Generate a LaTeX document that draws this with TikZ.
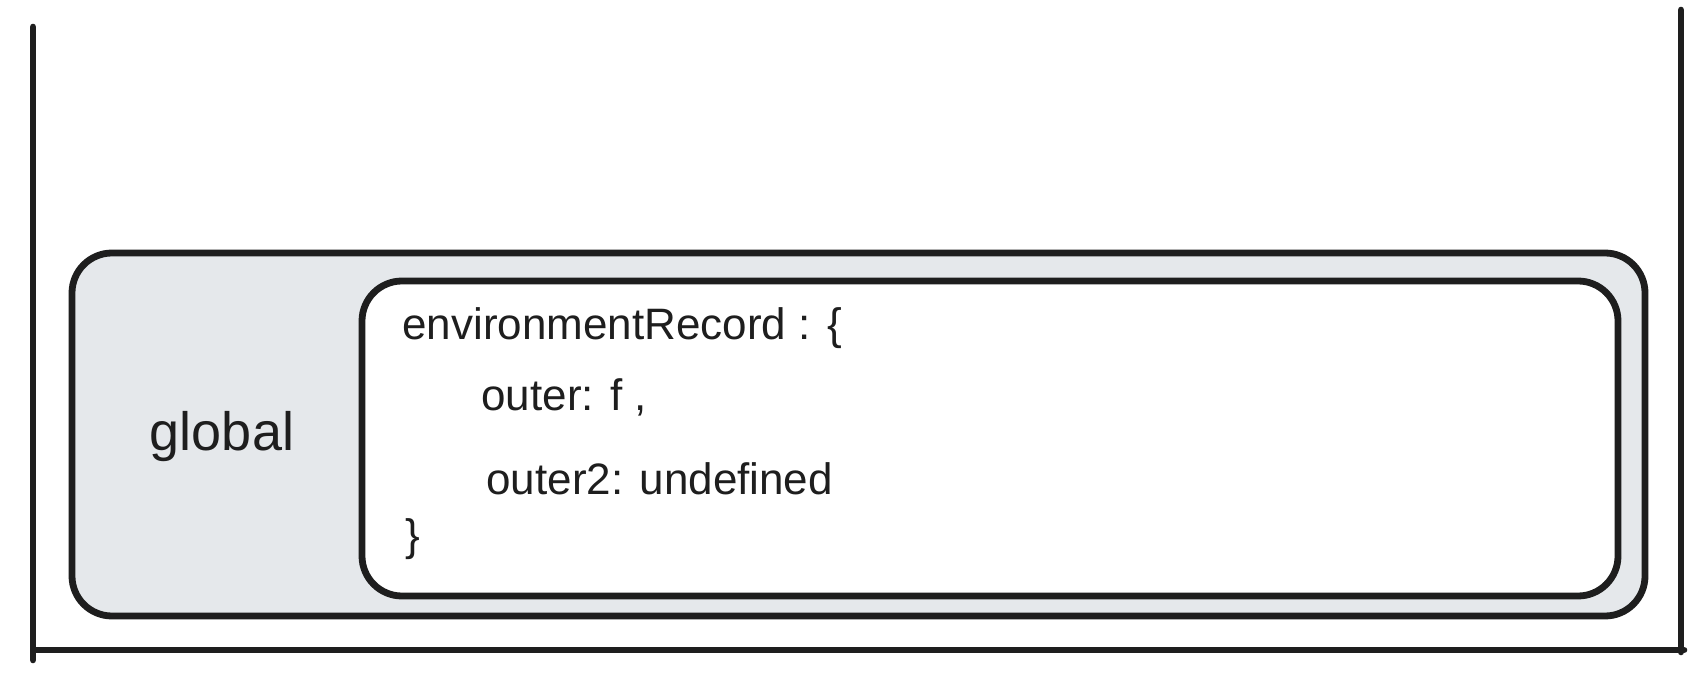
\documentclass[tikz,border=0pt]{standalone}
\usepackage{fontspec}
\setmainfont{Liberation Sans}
\definecolor{ink}{HTML}{1E1E1E}
\definecolor{boxfill}{HTML}{E5E8EB}
\tikzset{
  frameline/.style={draw=ink, line width=3.3pt, line cap=round},
  envbox/.style={draw=ink, line width=3.4pt, rounded corners=20pt},
  codetext/.style={anchor=west, inner sep=0pt, text=ink, font=\fontsize{22}{26}\selectfont},
  labeltext/.style={inner sep=0pt, text=ink, font=\fontsize{27}{32}\selectfont}
}
\begin{document}
\begin{tikzpicture}[x=0.5pt,y=-0.5pt]
\useasboundingbox[fill=white] (0,0) rectangle (1702,678);
% stack frame lines
\coordinate (lt) at (33,27);
\coordinate (lb) at (33,660);
\coordinate (rt) at (1681,10);
\coordinate (rb) at (1681,652);
\coordinate (bl) at (35,650);
\coordinate (br) at (1684,650);
\draw[frameline] (lt) -- (lb);
\draw[frameline] (rt) -- (rb);
\draw[frameline] (bl) -- (br);
% global execution context box
\draw[envbox, fill=boxfill] (72,253) rectangle (1645,616);
\draw[envbox, fill=white] (362,281) rectangle (1618,596);
\node[labeltext] (global) at (222,437) {global};
\node[codetext] (l1) at (402,328) {environmentRecord : \{};
\node[codetext] (l2) at (481,397) {outer: f ,};
\node[codetext] (l3) at (486,479) {outer2: undefined};
\node[codetext] (l4) at (405,539) {\}};
\end{tikzpicture}
\end{document}
